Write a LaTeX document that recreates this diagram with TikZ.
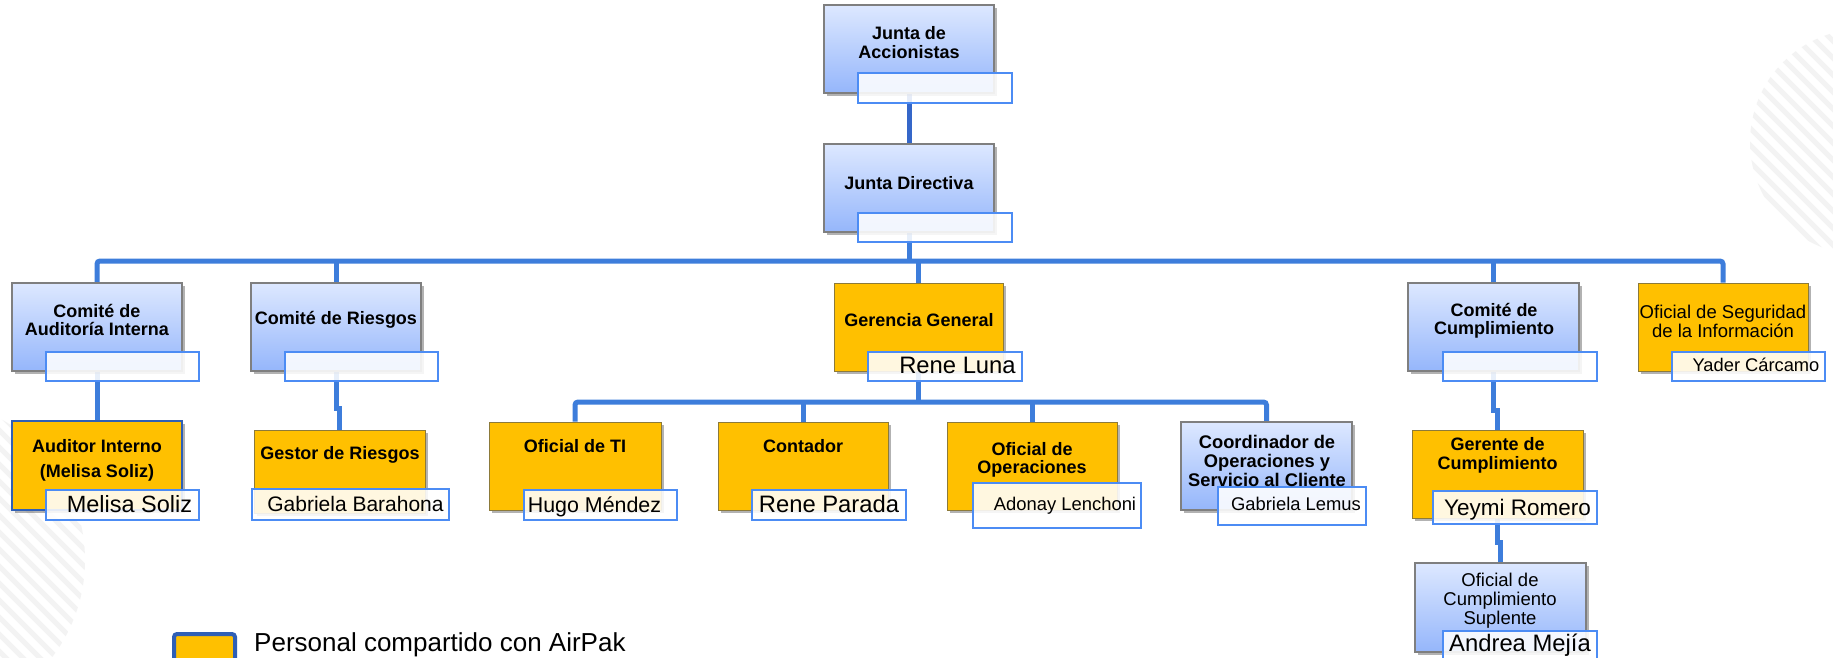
\documentclass[tikz,border=0pt]{standalone}
\usepackage{fontspec}
\setmainfont{Liberation Sans}
\usetikzlibrary{shadows}
\definecolor{busblue}{HTML}{3D7DDB}
\definecolor{darkbus}{HTML}{3567C9}
\definecolor{boxtop}{HTML}{DDE8FF}
\definecolor{boxbot}{HTML}{95B6FB}
\definecolor{orangefill}{HTML}{FFC000}
\definecolor{orangeedge}{HTML}{8C7A3A}
\definecolor{nameedge}{HTML}{4C8CF4}
\definecolor{grayedge}{HTML}{7F7F7F}
\definecolor{stripecol}{HTML}{F3F3F3}
\definecolor{legedge}{HTML}{2F5FB5}
\pgfdeclarelayer{deco}
\pgfdeclarelayer{bg}
\pgfsetlayers{deco,bg,main}
\newcommand\bx[6]{\node[#2, minimum width={(#5-#3)*1pt}, minimum height={(#6-#4)*1pt}] (#1) at ({(#3+#5)/2},{(#4+#6)/2}) {};}
\tikzset{
  myshadow/.style={drop shadow={shadow xshift=3pt, shadow yshift=-3pt, opacity=0.3, fill=black}},
  blubox/.style={rectangle, inner sep=0pt, draw=grayedge, line width=1.2pt, top color=boxtop, bottom color=boxbot, myshadow},
  orbox/.style={rectangle, inner sep=0pt, draw=orangeedge, line width=0.9pt, fill=orangefill, myshadow},
  orblue/.style={rectangle, inner sep=0pt, draw=legedge, line width=2pt, fill=orangefill, myshadow},
  namebox/.style={rectangle, inner sep=0pt, draw=nameedge, line width=2pt, fill=white, fill opacity=0.88, draw opacity=1},
  ttl/.style={inner sep=0pt, align=center, font=\bfseries\fontsize{18}{18.5}\selectfont},
  rtl/.style={inner sep=0pt, align=center, font=\fontsize{18.5}{19}\selectfont},
  nm/.style={inner sep=0pt, anchor=base},
  link/.style={draw=busblue, line width=5pt},
  darklink/.style={draw=darkbus, line width=5pt},
  stripe/.style={draw=stripecol, line width=5pt}
}
\begin{document}
\begin{tikzpicture}[x=1pt,y=-1pt]
\useasboundingbox (0,0) rectangle (1833,658);
\begin{pgfonlayer}{deco}
\fill[white] (0,0) rectangle (1833,658);
\begin{scope}
\clip (1863,142) circle (113);
\foreach \i in {-320,-303,...,320} \draw[stripe] ({1863+\i-160},{142-160}) -- ++(320,320);
\end{scope}
\begin{scope}
\clip (-75,560) circle (160);
\foreach \i in {-340,-323,...,340} \draw[stripe] ({-75+\i-180},{560-180}) -- ++(360,360);
\end{scope}
\end{pgfonlayer}
% main boxes
\bx{JA}{blubox}{824}{5}{994}{93}
\bx{JD}{blubox}{824}{144}{994}{232}
\bx{CA}{blubox}{12}{283}{182}{371}
\bx{CR}{blubox}{251}{283}{421}{371}
\bx{GG}{orbox}{834}{283}{1003}{371}
\bx{CC}{blubox}{1408}{283}{1579}{371}
\bx{OS}{orbox}{1638}{283}{1808}{371}
\bx{AI}{orblue}{12}{421}{182}{510}
\bx{GR}{orbox}{254}{430}{425}{513}
\bx{TI}{orbox}{489}{422}{661}{510}
\bx{CO}{orbox}{718}{422}{888}{510}
\bx{OP}{orbox}{947}{422}{1117}{510}
\bx{CD}{blubox}{1181}{422}{1352}{510}
\bx{GC}{orbox}{1412}{430}{1583}{518}
\bx{OCS}{blubox}{1415}{563}{1586}{652}
% name boxes
\bx{JAn}{namebox}{858}{73}{1012}{103}
\bx{JDn}{namebox}{858}{213}{1012}{242}
\bx{CAn}{namebox}{46}{352}{199}{381}
\bx{CRn}{namebox}{285}{352}{438}{381}
\bx{GGn}{namebox}{868}{352}{1022}{381}
\bx{CCn}{namebox}{1443}{352}{1597}{381}
\bx{OSn}{namebox}{1672}{352}{1825}{381}
\bx{AIn}{namebox}{46}{490}{199}{520}
\bx{GRn}{namebox}{252}{489}{449}{520}
\bx{TIn}{namebox}{524}{490}{677}{520}
\bx{COn}{namebox}{752}{490}{906}{520}
\bx{OPn}{namebox}{973}{483}{1141}{528}
\bx{CDn}{namebox}{1218}{487}{1366}{525}
\bx{GCn}{namebox}{1433}{491}{1597}{524}
\bx{OCSn}{namebox}{1443}{631}{1597}{661}
% titles
\node[ttl] (tJA) at (909,42.5) {Junta de\\Accionistas};
\node[ttl] (tJD) at (909,183) {Junta Directiva};
\node[ttl] (tCA) at (97,320) {Comité de\\Auditoría Interna};
\node[ttl] (tCR) at (336,320) {Comité de Riesgos};
\node[ttl] (tGG) at (919,320) {Gerencia General};
\node[ttl] (tCC) at (1494,321) {Comité de\\Cumplimiento};
\node[rtl] (tOS) at (1723,321) {Oficial de Seguridad\\de la Información};
\node[ttl, font=\bfseries\fontsize{18}{25}\selectfont] (tAI) at (97,460) {Auditor Interno\\(Melisa Soliz)};
\node[ttl] (tGR) at (340,454.5) {Gestor de Riesgos};
\node[ttl] (tTI) at (575,446.5) {Oficial de TI};
\node[ttl] (tCO) at (803,446.5) {Contador};
\node[ttl] (tOP) at (1032,460) {Oficial de\\Operaciones};
\node[ttl, font=\bfseries\fontsize{18.3}{19}\selectfont] (tCD) at (1267,460.5) {Coordinador de\\Operaciones y\\Servicio al Cliente};
\node[ttl] (tGC) at (1497.5,455.5) {Gerente de\\Cumplimiento};
\node[rtl] (tOCS) at (1500,601) {Oficial de\\Cumplimiento\\Suplente};
% names
\node[nm, font=\fontsize{23.5}{24}\selectfont] (nAI) at (129.5,512) {Melisa Soliz};
\node[nm, font=\fontsize{21}{22}\selectfont] (nGR) at (355.5,511.7) {Gabriela Barahona};
\node[nm, font=\fontsize{21.4}{22}\selectfont] (nTI) at (594.5,512) {Hugo Méndez};
\node[nm, font=\fontsize{23.8}{24}\selectfont] (nCO) at (829,512) {Rene Parada};
\node[nm, font=\fontsize{23.8}{24}\selectfont] (nGG) at (957.5,373) {Rene Luna};
\node[nm, font=\fontsize{18.4}{19}\selectfont] (nOP) at (1065,510.7) {Adonay Lenchoni};
\node[nm, font=\fontsize{18.4}{19}\selectfont] (nCD) at (1296,510.7) {Gabriela Lemus};
\node[nm, font=\fontsize{18.3}{19}\selectfont] (nOS) at (1756,371.7) {Yader Cárcamo};
\node[nm, font=\fontsize{22.5}{23}\selectfont] (nGC) at (1517.5,515) {Yeymi Romero};
\node[nm, font=\fontsize{23.8}{24}\selectfont] (nOCS) at (1520,651.7) {Andrea Mejía};
% legend
\node[rectangle, rounded corners=3pt, draw=legedge, line width=4pt, fill=orangefill, minimum width=61pt, minimum height=61pt, inner sep=0pt] (leg) at (204.5,664.5) {};
\node[inner sep=0pt, anchor=base west, font=\fontsize{26}{27}\selectfont] (legt) at (254,651.5) {Personal compartido con AirPak};
% connectors
\coordinate (bus) at (0,261);
\coordinate (bus2) at (0,402);
\coordinate (jogR) at (0,408);
\coordinate (jogC) at (0,410);
\coordinate (jogS) at (0,542);
\begin{pgfonlayer}{bg}
\draw[darklink] (JA.south) -- (JD.north);
\draw[link, rounded corners=3pt] (CA.north) -- (CA.north |- bus) -- (OS.north |- bus) -- (OS.north);
\draw[link] (JD.south) -- (JD.south |- bus);
\draw[link] (CR.north) -- (CR.north |- bus);
\draw[link] (GG.north) -- (GG.north |- bus);
\draw[link] (CC.north) -- (CC.north |- bus);
\draw[link] (CA.south) -- (AI.north);
\draw[link] (CR.south) -- (CR.south |- jogR) -| (GR.north);
\draw[link] (CC.south) -- (CC.south |- jogC) -| (GC.north);
\draw[link] (GC.south) -- (GC.south |- jogS) -| (OCS.north);
\draw[link] (GG.south) -- (GG.south |- bus2);
\draw[link, rounded corners=3pt] (TI.north) -- (TI.north |- bus2) -- (CD.north |- bus2) -- (CD.north);
\draw[link] (CO.north) -- (CO.north |- bus2);
\draw[link] (OP.north) -- (OP.north |- bus2);
\end{pgfonlayer}
\end{tikzpicture}
\end{document}
